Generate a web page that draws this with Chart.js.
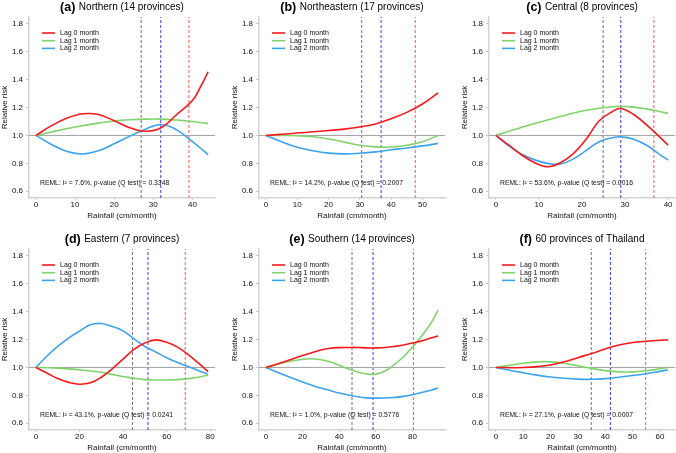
<!DOCTYPE html>
<html lang="en">
<head>
<meta charset="UTF-8">
<title>Relative risk by rainfall, Thailand regions</title>
<script src="https://cdn.jsdelivr.net/npm/chart.js"></script>
<style>
  body { margin: 0; width: 676px; height: 453px; overflow: hidden; background: #fff; position: relative; }
  canvas { position: absolute; }
</style>
</head>
<body>
<canvas id="chartA" width="230" height="221" style="left:0;top:0"></canvas>
<canvas id="chartB" width="230" height="221" style="left:230px;top:0"></canvas>
<canvas id="chartC" width="230" height="221" style="left:460px;top:0"></canvas>
<canvas id="chartD" width="230" height="221" style="left:0;top:232px"></canvas>
<canvas id="chartE" width="230" height="221" style="left:230px;top:232px"></canvas>
<canvas id="chartF" width="230" height="221" style="left:460px;top:232px"></canvas>

<script>
// panel labels and notes
const panelTags = ['(a)', '(b)', '(c)', '(d)', '(e)', '(f)'];
const panelNames = ['Northern (14 provinces)', 'Northeastern (17 provinces)', 'Central (8 provinces)',
                    'Eastern (7 provinces)', 'Southern (14 provinces)', '60 provinces of Thailand'];
const remlNotes = ['REML: I² = 7.6%, p-value (Q test) = 0.3348',
                   'REML: I² = 14.2%, p-value (Q test) = 0.2007',
                   'REML: I² = 53.6%, p-value (Q test) = 0.0016',
                   'REML: I² = 43.1%, p-value (Q test) = 0.0241',
                   'REML: I² = 1.0%, p-value (Q test) = 0.5776',
                   'REML: I² = 27.1%, p-value (Q test) = 0.0007'];
const lagLabels = ['Lag 0 month', 'Lag 1 month', 'Lag 2 month'];
const yTicks = [0.6, 0.8, 1.0, 1.2, 1.4, 1.6, 1.8];
const yRange = [0.6, 1.8];

// rainfall maximum per panel and x tick labels
const xMaxes = [44, 55, 40, 79, 94, 63];
const xTicksA = [0, 10, 20, 30, 40];
const xTicksB = [0, 10, 20, 30, 40, 50];
const xTicksC = [0, 10, 20, 30, 40];
const xTicksD = [0, 20, 40, 60, 80];
const xTicksE = [0, 20, 40, 60, 80];
const xTicksF = [0, 10, 20, 30, 40, 50, 60];

// (a) Northern
const xNorth    = [0, 4, 8, 12, 16, 20, 24, 28, 32, 36, 40, 42, 44];
const lag0North = [1.0, 1.07, 1.125, 1.155, 1.15, 1.105, 1.055, 1.03, 1.055, 1.15, 1.25, 1.345, 1.455];
const lag1North = [1.0, 1.025, 1.05, 1.07, 1.088, 1.103, 1.112, 1.117, 1.117, 1.11, 1.1, 1.093, 1.085];
const lag2North = [1.0, 0.935, 0.885, 0.867, 0.89, 0.94, 0.995, 1.045, 1.078, 1.04, 0.955, 0.91, 0.862];
const cutNorth  = [26.9, 31.9, 39.1];

// (b) Northeastern
const xNortheast    = [0, 5, 10, 15, 20, 25, 30, 35, 40, 45, 50, 55];
const lag0Northeast = [1.0, 1.008, 1.017, 1.026, 1.035, 1.045, 1.06, 1.082, 1.12, 1.165, 1.225, 1.305];
const lag1Northeast = [1.0, 1.0, 0.998, 0.99, 0.975, 0.952, 0.93, 0.918, 0.917, 0.93, 0.955, 1.0];
const lag2Northeast = [1.0, 0.955, 0.915, 0.89, 0.873, 0.868, 0.872, 0.882, 0.897, 0.91, 0.925, 0.943];
const cutNortheast  = [30.6, 36.8, 47.7];

// (c) Central
const xCentral    = [0, 3, 6, 9, 12, 15, 18, 21, 24, 27, 29, 32, 35, 38, 40];
const lag0Central = [1.0, 0.93, 0.86, 0.805, 0.776, 0.805, 0.87, 0.975, 1.105, 1.17, 1.193, 1.15, 1.075, 0.99, 0.93];
const lag1Central = [1.0, 1.03, 1.058, 1.085, 1.11, 1.135, 1.16, 1.18, 1.195, 1.205, 1.208, 1.203, 1.19, 1.172, 1.158];
const lag2Central = [1.0, 0.925, 0.865, 0.825, 0.8, 0.795, 0.832, 0.893, 0.955, 0.983, 0.99, 0.973, 0.93, 0.865, 0.824];
const cutCentral  = [24.9, 29.0, 36.7];

// (d) Eastern
const xEast    = [0, 5, 10, 15, 20, 25, 30, 35, 40, 45, 50, 55, 60, 65, 70, 75, 79];
const lag0East = [1.0, 0.96, 0.92, 0.893, 0.88, 0.89, 0.93, 0.99, 1.06, 1.13, 1.175, 1.197, 1.18, 1.145, 1.09, 1.025, 0.97];
const lag1East = [1.0, 0.998, 0.995, 0.99, 0.983, 0.975, 0.965, 0.95, 0.935, 0.922, 0.913, 0.91, 0.91, 0.913, 0.92, 0.932, 0.945];
const lag2East = [1.0, 1.08, 1.15, 1.21, 1.26, 1.305, 1.315, 1.293, 1.262, 1.205, 1.15, 1.11, 1.07, 1.035, 1.005, 0.975, 0.952];
const cutEast  = [44.3, 51.4, 68.5];

// (e) Southern
const xSouth    = [0, 10, 20, 25, 30, 35, 40, 45, 50, 55, 60, 65, 70, 75, 80, 85, 90, 94];
const lag0South = [1.0, 1.04, 1.085, 1.105, 1.125, 1.137, 1.142, 1.143, 1.143, 1.14, 1.14, 1.143, 1.15, 1.16, 1.175, 1.19, 1.21, 1.225];
const lag1South = [1.0, 1.035, 1.058, 1.062, 1.055, 1.04, 1.015, 0.99, 0.967, 0.953, 0.952, 0.975, 1.02, 1.075, 1.145, 1.225, 1.315, 1.41];
const lag2South = [1.0, 0.945, 0.895, 0.873, 0.853, 0.835, 0.817, 0.802, 0.79, 0.782, 0.78, 0.781, 0.785, 0.793, 0.805, 0.82, 0.837, 0.852];
const cutSouth  = [47.0, 58.5, 80.5];

// (f) all 60 provinces
const xAll    = [0, 5, 10, 15, 20, 25, 30, 35, 40, 45, 50, 55, 60, 63];
const lag0All = [1.0, 0.998, 1.0, 1.006, 1.018, 1.04, 1.07, 1.1, 1.132, 1.16, 1.178, 1.188, 1.195, 1.197];
const lag1All = [1.0, 1.015, 1.03, 1.04, 1.04, 1.03, 1.012, 0.993, 0.977, 0.968, 0.968, 0.976, 0.99, 1.0];
const lag2All = [1.0, 0.98, 0.962, 0.945, 0.932, 0.922, 0.916, 0.915, 0.92, 0.93, 0.942, 0.955, 0.972, 0.982];
const cutAll  = [34.9, 41.9, 54.8];

const lagColors = ['#f7191c', '#80d36b', '#3ba3ec'];
const cutColors = ['#707070', '#3d3df5', '#ff5555'];
const FONT = '"Liberation Sans", Arial, sans-serif';

const panels = [
  { id: 'chartA', x: xNorth, lags: [lag0North, lag1North, lag2North], cuts: cutNorth, ticks: xTicksA },
  { id: 'chartB', x: xNortheast, lags: [lag0Northeast, lag1Northeast, lag2Northeast], cuts: cutNortheast, ticks: xTicksB },
  { id: 'chartC', x: xCentral, lags: [lag0Central, lag1Central, lag2Central], cuts: cutCentral, ticks: xTicksC },
  { id: 'chartD', x: xEast, lags: [lag0East, lag1East, lag2East], cuts: cutEast, ticks: xTicksD },
  { id: 'chartE', x: xSouth, lags: [lag0South, lag1South, lag2South], cuts: cutSouth, ticks: xTicksE },
  { id: 'chartF', x: xAll, lags: [lag0All, lag1All, lag2All], cuts: cutAll, ticks: xTicksF }
];

// title, legend inside plot and REML note
const panelText = {
  id: 'panelText',
  afterDraw(chart, args, opts) {
    const ctx = chart.ctx;
    const area = chart.chartArea;
    ctx.save();
    ctx.textBaseline = 'middle';
    ctx.textAlign = 'left';
    ctx.fillStyle = '#000';

    const cx = (area.left + area.right) / 2;
    ctx.font = 'bold 12.5px ' + FONT;
    const w1 = ctx.measureText(opts.tag + ' ').width;
    ctx.font = '10px ' + FONT;
    const w2 = ctx.measureText(opts.name).width;
    const x0 = cx - (w1 + w2) / 2;
    ctx.font = 'bold 12.5px ' + FONT;
    ctx.fillText(opts.tag, x0, 7.5);
    ctx.font = '10px ' + FONT;
    ctx.fillText(opts.name, x0 + w1, 7.5);

    ctx.font = '7px ' + FONT;
    lagLabels.forEach((label, i) => {
      const y = area.top + 16 + i * 7.7;
      ctx.strokeStyle = lagColors[i];
      ctx.lineWidth = 1.6;
      ctx.beginPath();
      ctx.moveTo(area.left + 13, y);
      ctx.lineTo(area.left + 26, y);
      ctx.stroke();
      ctx.fillStyle = '#111';
      ctx.fillText(label, area.left + 31, y);
    });

    ctx.font = '6.8px ' + FONT;
    ctx.fillText(opts.reml, area.left + 11, area.top + 166);
    ctx.restore();
  }
};

panels.forEach((p, k) => {
  const xmax = xMaxes[k];
  const xLo = -0.04 * xmax, xHi = 1.04 * xmax;
  const yPad = 0.04 * (yRange[1] - yRange[0]);
  const yLo = yRange[0] - yPad, yHi = yRange[1] + yPad;

  const datasets = p.lags.map((vals, i) => ({
    data: p.x.map((x, j) => ({ x: x, y: vals[j] })),
    borderColor: lagColors[i],
    borderWidth: 1.6,
    pointRadius: 0,
    tension: 0.4,
    fill: false
  }));
  datasets.push({
    data: [{ x: xLo, y: 1 }, { x: xHi, y: 1 }],
    borderColor: '#a0a0a0', borderWidth: 1, pointRadius: 0
  });
  p.cuts.forEach((c, i) => {
    datasets.push({
      data: [{ x: c, y: yLo }, { x: c, y: yHi }],
      borderColor: cutColors[i], borderWidth: 1, borderDash: [3, 2], pointRadius: 0
    });
  });

  new Chart(document.getElementById(p.id), {
    type: 'line',
    data: { datasets: datasets },
    options: {
      responsive: false,
      animation: false,
      events: [],
      layout: { padding: { top: 17, right: 15, left: 0, bottom: 0 } },
      plugins: {
        legend: { display: false },
        tooltip: { enabled: false },
        panelText: { tag: panelTags[k], name: panelNames[k], reml: remlNotes[k] }
      },
      scales: {
        x: {
          type: 'linear',
          min: xLo, max: xHi,
          afterBuildTicks: s => { s.ticks = p.ticks.map(v => ({ value: v })); },
          afterFit: s => { s.height = 23; },
          border: { color: '#d2d2d2', width: 1.5 },
          grid: { drawOnChartArea: false, tickLength: 2, color: '#c8c8c8' },
          ticks: { font: { size: 8, family: FONT }, color: '#111', padding: 0, maxRotation: 0,
                   callback: v => String(v) },
          title: { display: true, text: 'Rainfall (cm/month)', font: { size: 8, family: FONT },
                   color: '#111', padding: { top: 0, bottom: 0 } }
        },
        y: {
          min: yLo, max: yHi,
          afterBuildTicks: s => { s.ticks = yTicks.map(v => ({ value: v })); },
          afterFit: s => { s.width = 29; },
          border: { color: '#d2d2d2', width: 1.5 },
          grid: { drawOnChartArea: false, tickLength: 3, color: '#c8c8c8' },
          ticks: { font: { size: 8, family: FONT }, color: '#111', padding: 3,
                   callback: v => v.toFixed(1) },
          title: { display: true, text: 'Relative risk', font: { size: 8, family: FONT },
                   color: '#111', padding: { top: 0, bottom: 0 } }
        }
      }
    },
    plugins: [panelText]
  });
});
</script>
</body>
</html>
